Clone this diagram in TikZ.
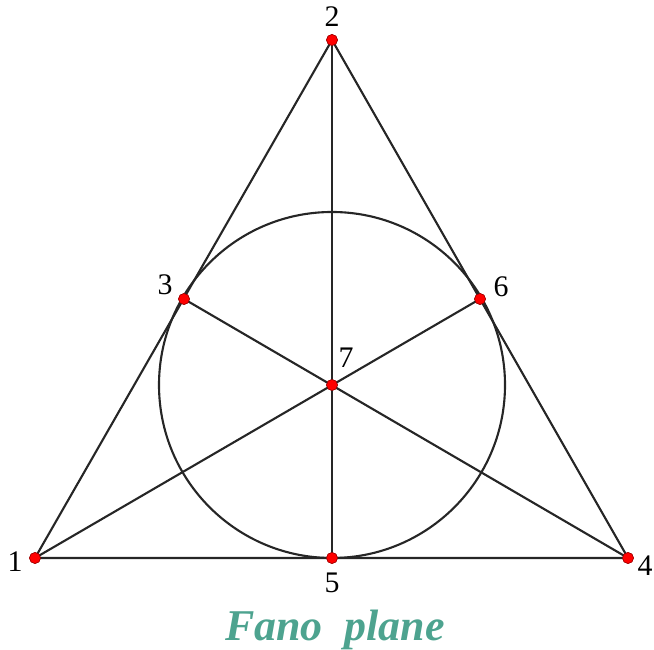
\documentclass[tikz,border=0pt]{standalone}
\usepackage{fontspec}
\setmainfont{Liberation Serif}
\usepackage{tikz}

\definecolor{fanogreen}{RGB}{77,163,143}

\begin{document}
\begin{tikzpicture}[every node/.style={font=\fontsize{17}{20}\selectfont}, line width=1.2pt,
	pt/.style={circle, fill=red, draw=red!60!black, line width=0.3pt, inner sep=0pt, minimum size=2.2mm}]
	\useasboundingbox (0,0) rectangle (13.08,13.00);
	% points of the plane
	\node[pt] (p1) at (0.70,1.84) {};
	\node[pt] (p2) at (6.64,12.20) {};
	\node[pt] (p3) at (3.68,7.02) {};
	\node[pt] (p4) at (12.56,1.84) {};
	\node[pt] (p5) at (6.64,1.84) {};
	\node[pt] (p6) at (9.60,7.02) {};
	\node[pt] (p7) at (6.64,5.30) {};
	% lines
	\draw[black!85] (p1.center) -- (p2.center) -- (p4.center) -- cycle;
	\draw[black!85] (p2.center) -- (p5.center);
	\draw[black!85] (p1.center) -- (p6.center);
	\draw[black!85] (p4.center) -- (p3.center);
	\draw[black!85] (p7.center) circle (3.46);
	% redraw the points on top
	\foreach \p in {p1,p2,p3,p4,p5,p6,p7}
		\node[pt] at (\p) {};
	% labels
	\node (l1) at (0.30,1.76) {1};
	\node (l2) at (6.64,12.66) {2};
	\node (l3) at (3.30,7.30) {3};
	\node (l4) at (12.90,1.68) {4};
	\node (l5) at (6.64,1.34) {5};
	\node (l6) at (10.02,7.26) {6};
	\node (l7) at (6.92,5.85) {7};
	\node[fanogreen, font=\fontsize{25}{30}\selectfont\bfseries\itshape] (title) at (6.70,0.40) {Fano\ \ plane};
\end{tikzpicture}
\end{document}
